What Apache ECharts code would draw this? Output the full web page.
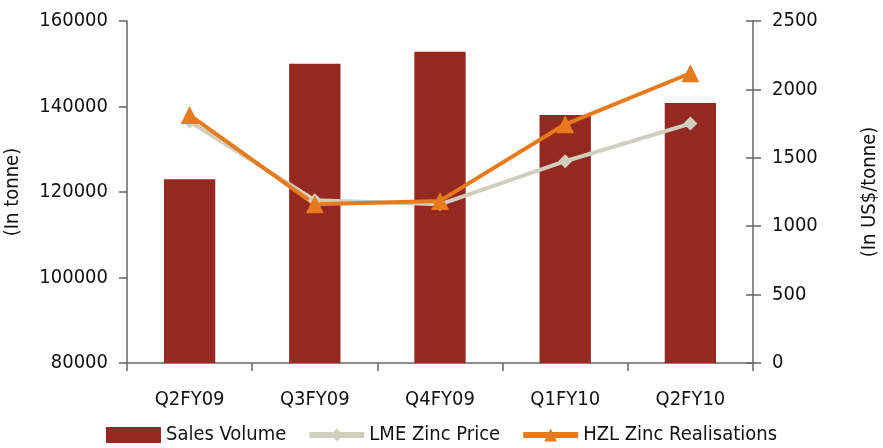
<!DOCTYPE html>
<html>
<head>
<meta charset="utf-8">
<script src="https://cdn.jsdelivr.net/npm/echarts@6/dist/echarts.min.js"></script>
<style>
  html, body { margin: 0; padding: 0; background: #fff; }
  #chart { width: 883px; height: 448px; }
</style>
</head>
<body>
<div id="chart"></div>
<script>
// 数据
const categories = ['Q2FY09', 'Q3FY09', 'Q4FY09', 'Q1FY10', 'Q2FY10']
const salesVolume = [123000, 150000, 152800, 138000, 140800]
const lmePrice = [1765, 1190, 1160, 1475, 1750]
const hzlRealisation = [1812, 1160, 1185, 1745, 2118]

const FONT = "'DejaVu Sans Condensed', 'Liberation Sans', sans-serif"
const textColor = '#111'
const axisColor = '#666'

const chart = echarts.init(document.getElementById('chart'))

const option = {
  animation: false,
  textStyle: { fontFamily: FONT },
  grid: { left: 127, right: 130, top: 21, bottom: 85, outerBoundsMode: 'none', containLabel: false },
  legend: {
    bottom: -2,
    left: 'center',
    itemWidth: 55,
    itemHeight: 16,
    itemGap: 20,
    lineStyle: { width: 6 },
    textStyle: { fontFamily: FONT, fontSize: 20, color: textColor },
    data: [
      { name: 'Sales Volume', icon: 'rect' },
      { name: 'LME Zinc Price' },
      { name: 'HZL Zinc Realisations' }
    ]
  },
  xAxis: {
    type: 'category',
    data: categories,
    boundaryGap: true,
    axisLine: { lineStyle: { color: axisColor, width: 1.5 } },
    axisTick: { show: true, length: 8, lineStyle: { color: axisColor, width: 1.5 } },
    axisLabel: { fontFamily: FONT, fontSize: 20, color: textColor, margin: 27 }
  },
  yAxis: [
    {
      type: 'value',
      min: 80000,
      max: 160000,
      interval: 20000,
      position: 'left',
      name: '(In tonne)',
      nameLocation: 'middle',
      nameRotate: 90,
      nameGap: 104,
      nameTextStyle: { fontFamily: FONT, fontSize: 20, color: textColor },
      axisLine: { show: true, lineStyle: { color: axisColor, width: 1.5 } },
      axisTick: { show: true, length: 8, lineStyle: { color: axisColor, width: 1.5 } },
      axisLabel: { fontFamily: FONT, fontSize: 20, color: textColor, margin: 19, formatter: (v) => String(v) },
      splitLine: { show: false }
    },
    {
      type: 'value',
      min: 0,
      max: 2500,
      interval: 500,
      position: 'right',
      name: '(In US$/tonne)',
      nameLocation: 'middle',
      nameRotate: 90,
      nameGap: 107,
      nameTextStyle: { fontFamily: FONT, fontSize: 20, color: textColor },
      axisLine: { show: true, lineStyle: { color: axisColor, width: 1.5 } },
      axisTick: { show: true, length: 8, lineStyle: { color: axisColor, width: 1.5 } },
      axisLabel: { fontFamily: FONT, fontSize: 20, color: textColor, margin: 19, formatter: (v) => String(v) },
      splitLine: { show: false }
    },
    {
      // 右轴内侧刻度（让刻度穿过轴线）
      type: 'value',
      min: 0,
      max: 2500,
      interval: 500,
      position: 'right',
      axisLine: { show: false },
      axisTick: { show: true, inside: true, length: 7, lineStyle: { color: axisColor, width: 1.5 } },
      axisLabel: { show: false },
      splitLine: { show: false }
    }
  ],
  series: [
    {
      name: 'Sales Volume',
      type: 'bar',
      yAxisIndex: 0,
      barWidth: '41%',
      itemStyle: { color: '#952820' },
      data: salesVolume
    },
    {
      name: 'LME Zinc Price',
      type: 'line',
      yAxisIndex: 1,
      symbol: 'diamond',
      symbolSize: 14,
      lineStyle: { color: '#D0CEBE', width: 4 },
      itemStyle: { color: '#D0CEBE' },
      data: lmePrice
    },
    {
      name: 'HZL Zinc Realisations',
      type: 'line',
      yAxisIndex: 1,
      symbol: 'triangle',
      symbolSize: 18,
      lineStyle: { color: '#E87A1E', width: 4 },
      itemStyle: { color: '#E87A1E' },
      data: hzlRealisation
    }
  ]
}

chart.setOption(option)
</script>
</body>
</html>
